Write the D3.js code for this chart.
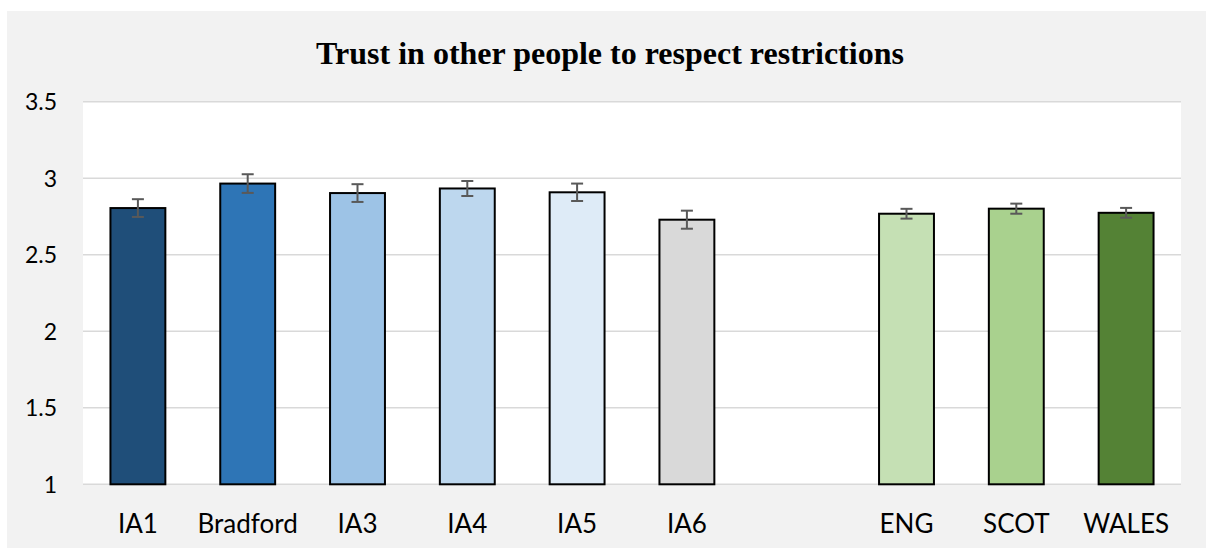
<!DOCTYPE html>
<html><head><meta charset="utf-8">
<script src="https://cdn.jsdelivr.net/npm/d3@7"></script>
<style>body{margin:0;background:#fff;} svg{display:block;}</style>
</head><body>
<svg id="c" width="1206" height="550"></svg>
<script>
const categories = ["IA1","Bradford","IA3","IA4","IA5","IA6","","ENG","SCOT","WALES"];
const values =     [2.805, 2.965, 2.903, 2.933, 2.908, 2.729, null, 2.768, 2.801, 2.774];
const errors =     [0.058, 0.061, 0.058, 0.049, 0.057, 0.059, null, 0.032, 0.033, 0.032];
const colors =     ["#1f4e79","#2e75b6","#9dc3e6","#bdd7ee","#deebf7","#d9d9d9",null,"#c5e0b4","#a9d18e","#548235"];
const yTicks = [1, 1.5, 2, 2.5, 3, 3.5];
const yTickLabels = ["1","1.5","2","2.5","3","3.5"];
const title = "Trust in other people to respect restrictions";

const svg = d3.select("#c");
svg.append("rect").attr("x",7).attr("y",11).attr("width",1199).attr("height",537).attr("fill","#f2f2f2");

const m = {left:83, right:1181, top:101.7, bottom:484.3};
svg.append("rect").attr("x",m.left).attr("y",m.top).attr("width",m.right-m.left).attr("height",m.bottom-m.top).attr("fill","#fff");

const x = d3.scaleBand().domain(d3.range(categories.length)).range([m.left,m.right]).paddingInner(0.5).paddingOuter(0.25);
const y = d3.scaleLinear().domain([1,3.5]).range([m.bottom,m.top]);

// gridlines
svg.append("g").selectAll("line").data(yTicks).join("line")
  .attr("x1",m.left).attr("x2",m.right)
  .attr("y1",d=>y(d)).attr("y2",d=>y(d))
  .attr("stroke","#d9d9d9").attr("stroke-width",1.5);

// y axis labels
const yAxis = d3.axisLeft(y).tickValues(yTicks).tickFormat((d,i)=>yTickLabels[i]).tickSize(0).tickPadding(0);
const gy = svg.append("g").attr("transform","translate(57,0)").call(yAxis);
gy.select(".domain").remove();
gy.selectAll("text").attr("font-family","Lato, 'Open Sans', sans-serif").attr("font-size",23).attr("fill","#000").attr("dy","0.35em");

// bars
const data = categories.map((c,i)=>({c,i,v:values[i],e:errors[i],col:colors[i]})).filter(d=>d.v!=null);
svg.append("g").selectAll("rect").data(data).join("rect")
  .attr("x",d=>x(d.i)).attr("width",x.bandwidth())
  .attr("y",d=>y(d.v)).attr("height",d=>y(1)-y(d.v))
  .attr("fill",d=>d.col).attr("stroke","#000").attr("stroke-width",2);

// error bars
const eg = svg.append("g").attr("stroke","#595959").attr("stroke-width",2);
data.forEach(d=>{
  const cx = x(d.i)+x.bandwidth()/2;
  eg.append("line").attr("x1",cx).attr("x2",cx).attr("y1",y(d.v+d.e)).attr("y2",y(d.v-d.e));
  eg.append("line").attr("x1",cx-6).attr("x2",cx+6).attr("y1",y(d.v+d.e)).attr("y2",y(d.v+d.e));
  eg.append("line").attr("x1",cx-6).attr("x2",cx+6).attr("y1",y(d.v-d.e)).attr("y2",y(d.v-d.e));
});

// x axis labels
const xAxis = d3.axisBottom(x).tickFormat(i=>categories[i]).tickSize(0).tickPadding(0);
const gx = svg.append("g").attr("transform","translate(0,532.5)").call(xAxis);
gx.select(".domain").remove();
gx.selectAll("text").attr("font-family","Lato, 'Open Sans', sans-serif").attr("font-size",26).attr("fill","#000").attr("dy","0");

svg.append("text").attr("x",610).attr("y",64).attr("text-anchor","middle")
  .attr("font-family","'Liberation Serif', 'Times New Roman', serif").attr("font-weight","bold").attr("font-size",32)
  .attr("fill","#000").text(title);
</script>
</body></html>
